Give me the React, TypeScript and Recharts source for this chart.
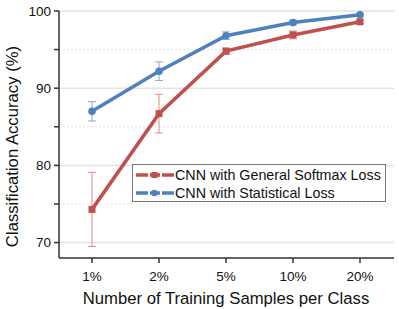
import React from "react";
import {
  LineChart, Line, XAxis, YAxis, ErrorBar, ReferenceLine,
} from "recharts";

const categories = ["1%", "2%", "5%", "10%", "20%"];
const softmaxAcc = [74.3, 86.7, 94.8, 96.9, 98.6];
const softmaxErr = [4.8, 2.5, 0.4, 0.5, 0.2];
const statAcc = [87.0, 92.2, 96.8, 98.5, 99.5];
const statErr = [1.25, 1.2, 0.5, 0.3, 0.15];
const majorTicks = [70, 80, 90, 100];
const minorTicks = [75, 85, 95];
const allTicks = [70, 75, 80, 85, 90, 95, 100];

const RED = "#c0504d";
const BLUE = "#4f81bd";
const FONT = "'Liberation Sans', Arial, Helvetica, sans-serif";

const data = categories.map((name, i) => ({
  name,
  softmax: softmaxAcc[i],
  softmaxErr: softmaxErr[i],
  stat: statAcc[i],
  statErr: statErr[i],
}));

const legendItems = [
  { label: "CNN with General Softmax Loss", color: RED, shape: "square" },
  { label: "CNN with Statistical Loss", color: BLUE, shape: "circle" },
];

function LegendBox() {
  return (
    <div style={{
      position: "absolute", left: 132, top: 164,
      border: "1px solid #777", background: "#fff", width: 254, height: 38,
      boxSizing: "border-box", padding: "1px 0 0 2px", fontFamily: FONT, fontSize: 14.3, color: "#111",
    }}>
      {legendItems.map((it) => (
        <div key={it.label} style={{ display: "flex", alignItems: "center", height: 18 }}>
          <svg width={40} height={12}>
            <line x1={1} y1={6} x2={39} y2={6} stroke={it.color} strokeWidth={3.5} strokeDasharray="12 2 10 2 12" />
            {it.shape === "square"
              ? <rect x={16.5} y={3} width={6} height={6} fill={it.color} />
              : <circle cx={19.5} cy={6} r={3.3} fill={it.color} />}
          </svg>
          <span>{it.label}</span>
        </div>
      ))}
    </div>
  );
}

export default function App() {
  return (
    <div style={{ position: "absolute", left: 0, top: 0, width: 399, height: 309, background: "#fff", overflow: "hidden" }}>
      <LineChart width={399} height={309} data={data} margin={{ top: 11, right: 5, bottom: 21, left: 9 }}>
        {majorTicks.map((t) => (
          <ReferenceLine key={"M" + t} y={t} stroke="#e3e3e3" strokeWidth={1.5} />
        ))}
        {minorTicks.map((t) => (
          <ReferenceLine key={"m" + t} y={t} stroke="#e6e6e6" strokeDasharray="2 2" />
        ))}
        <XAxis
          dataKey="name" height={30} stroke="#333" strokeWidth={1.5} padding={{ left: 33, right: 34 }}
          tick={{ fill: "#111", fontSize: 13.5, fontFamily: FONT }} tickSize={5} tickMargin={8}
        />
        <YAxis
          domain={[68, 100]} ticks={allTicks} interval={0} width={50} stroke="#333" strokeWidth={1.5}
          tickFormatter={(v: number) => (majorTicks.includes(v) ? String(v) : "")}
          tick={{ fill: "#111", fontSize: 13.5, fontFamily: FONT }} tickSize={5} tickMargin={3}
          allowDataOverflow
        />
        <Line dataKey="softmax" stroke={RED} strokeWidth={3.5} isAnimationActive={false}
          dot={(p: any) => <rect key={p.index} x={p.cx - 3.5} y={p.cy - 3.5} width={7} height={7} fill={RED} />}>
          <ErrorBar dataKey="softmaxErr" stroke="#e28a88" strokeWidth={1} width={4} isAnimationActive={false} />
        </Line>
        <Line dataKey="stat" stroke={BLUE} strokeWidth={3.5} isAnimationActive={false}
          dot={{ r: 3.8, fill: BLUE, stroke: BLUE, strokeWidth: 0 }}>
          <ErrorBar dataKey="statErr" stroke="#86a9d6" strokeWidth={1} width={4} isAnimationActive={false} />
        </Line>
      </LineChart>
      <LegendBox />
      <svg width={399} height={309} style={{ position: "absolute", left: 0, top: 0, pointerEvents: "none" }}>
        <text x={12} y={146.5} transform="rotate(-90 12 146.5)" textAnchor="middle" dominantBaseline="central"
          fontFamily={FONT} fontSize={16.7} fill="#111">
          Classification Accuracy (%)
        </text>
        <text x={226} y={298} textAnchor="middle" dominantBaseline="central"
          fontFamily={FONT} fontSize={16.7} fill="#111">
          Number of Training Samples per Class
        </text>
      </svg>
    </div>
  );
}
